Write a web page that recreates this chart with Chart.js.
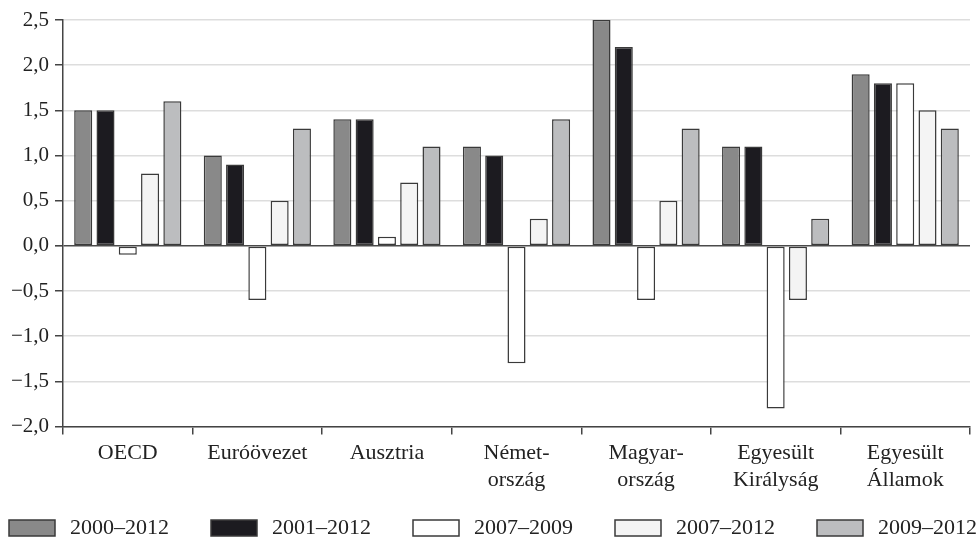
<!DOCTYPE html>
<html>
<head>
<meta charset="utf-8">
<script src="https://cdn.jsdelivr.net/npm/chart.js@4/dist/chart.umd.min.js"></script>
<style>
  html, body { margin: 0; padding: 0; background: #ffffff; }
  #wrap { width: 976px; height: 538px; }
</style>
</head>
<body>
<div id="wrap"><canvas id="c" width="976" height="538"></canvas></div>
<script>
// ---- data ----
const categories = [
  ["OECD"],
  ["Euróövezet"],
  ["Ausztria"],
  ["Német-", "ország"],
  ["Magyar-", "ország"],
  ["Egyesült", "Királyság"],
  ["Egyesült", "Államok"]
];
const seriesLabels = ["2000–2012", "2001–2012", "2007–2009", "2007–2012", "2009–2012"];
const s2000_2012 = [1.5, 1.0, 1.4, 1.1, 2.5, 1.1, 1.9];
const s2001_2012 = [1.5, 0.9, 1.4, 1.0, 2.2, 1.1, 1.8];
const s2007_2009 = [-0.1, -0.6, 0.1, -1.3, -0.6, -1.8, 1.8];
const s2007_2012 = [0.8, 0.5, 0.7, 0.3, 0.5, -0.6, 1.5];
const s2009_2012 = [1.6, 1.3, 1.1, 1.4, 1.3, 0.3, 1.3];
const yTickValues = [-2.0, -1.5, -1.0, -0.5, 0.0, 0.5, 1.0, 1.5, 2.0, 2.5];

// ---- styles ----
const fills = ["#898989", "#1c1b20", "#ffffff", "#f4f4f4", "#bcbdbf"];
const edge = "#3a3a3a";
const FONT = "'Liberation Serif', 'Times New Roman', serif";
const TXT = "#222222";

const seriesData = [s2000_2012, s2001_2012, s2007_2009, s2007_2012, s2009_2012];

const datasets = seriesData.map((d, i) => ({
  label: seriesLabels[i],
  data: d,
  backgroundColor: fills[i],
  borderColor: edge,
  borderWidth: 1.5,
  borderSkipped: false,
  categoryPercentage: 0.86,
  barPercentage: 0.81
}));

function fmt(v) {
  return v.toFixed(1).replace('.', ',').replace('-', '\u2212');
}

// custom legend drawn at the bottom from the chart's own datasets
const bottomLegend = {
  id: 'bottomLegend',
  afterDraw(chart) {
    const ctx = chart.ctx;
    ctx.save();
    ctx.font = "22px " + FONT;
    ctx.textBaseline = 'middle';
    ctx.textAlign = 'left';
    const pitch = 202;
    chart.data.datasets.forEach((ds, i) => {
      const x = 9 + i * pitch;
      const y = 520;
      ctx.fillStyle = ds.backgroundColor;
      ctx.fillRect(x, y, 46, 16);
      ctx.lineWidth = 1.5;
      ctx.strokeStyle = ds.borderColor;
      ctx.strokeRect(x, y, 46, 16);
      ctx.fillStyle = TXT;
      ctx.fillText(ds.label, x + 61, y + 8);
    });
    ctx.restore();
  }
};

new Chart(document.getElementById('c'), {
  type: 'bar',
  data: { labels: categories, datasets: datasets },
  plugins: [bottomLegend],
  options: {
    responsive: false,
    animation: false,
    devicePixelRatio: 1,
    layout: { padding: { top: 20, right: 6, bottom: 0, left: 0 } },
    plugins: {
      legend: { display: false },
      tooltip: { enabled: false },
      title: { display: false }
    },
    scales: {
      x: {
        offset: true,
        afterFit(axis) { axis.height = 111.5; },
        grid: {
          display: true,
          offset: true,
          drawOnChartArea: false,
          drawTicks: true,
          tickLength: 8,
          color: '#444444',
          lineWidth: 1.5
        },
        border: { display: true, color: '#444444', width: 1.5 },
        ticks: {
          color: TXT,
          font: { family: FONT, size: 22, lineHeight: 1.23 },
          padding: 5,
          maxRotation: 0,
          autoSkip: false
        }
      },
      y: {
        min: -2.0,
        max: 2.5,
        afterFit(axis) { axis.width = 63; },
        afterBuildTicks(axis) { axis.ticks = yTickValues.map(v => ({ value: v })); },
        grid: {
          color: (c) => (c.tick && Math.abs(c.tick.value) < 1e-9) ? '#4a4a4a' : '#dddddd',
          lineWidth: (c) => (c.tick && Math.abs(c.tick.value) < 1e-9) ? 1.6 : 1.5,
          tickColor: '#444444',
          tickLength: 8,
          drawTicks: true
        },
        border: { display: true, color: '#444444', width: 1.5 },
        ticks: {
          color: TXT,
          font: { family: FONT, size: 21 },
          padding: 6,
          callback: (v) => fmt(v)
        }
      }
    }
  }
});
</script>
</body>
</html>
